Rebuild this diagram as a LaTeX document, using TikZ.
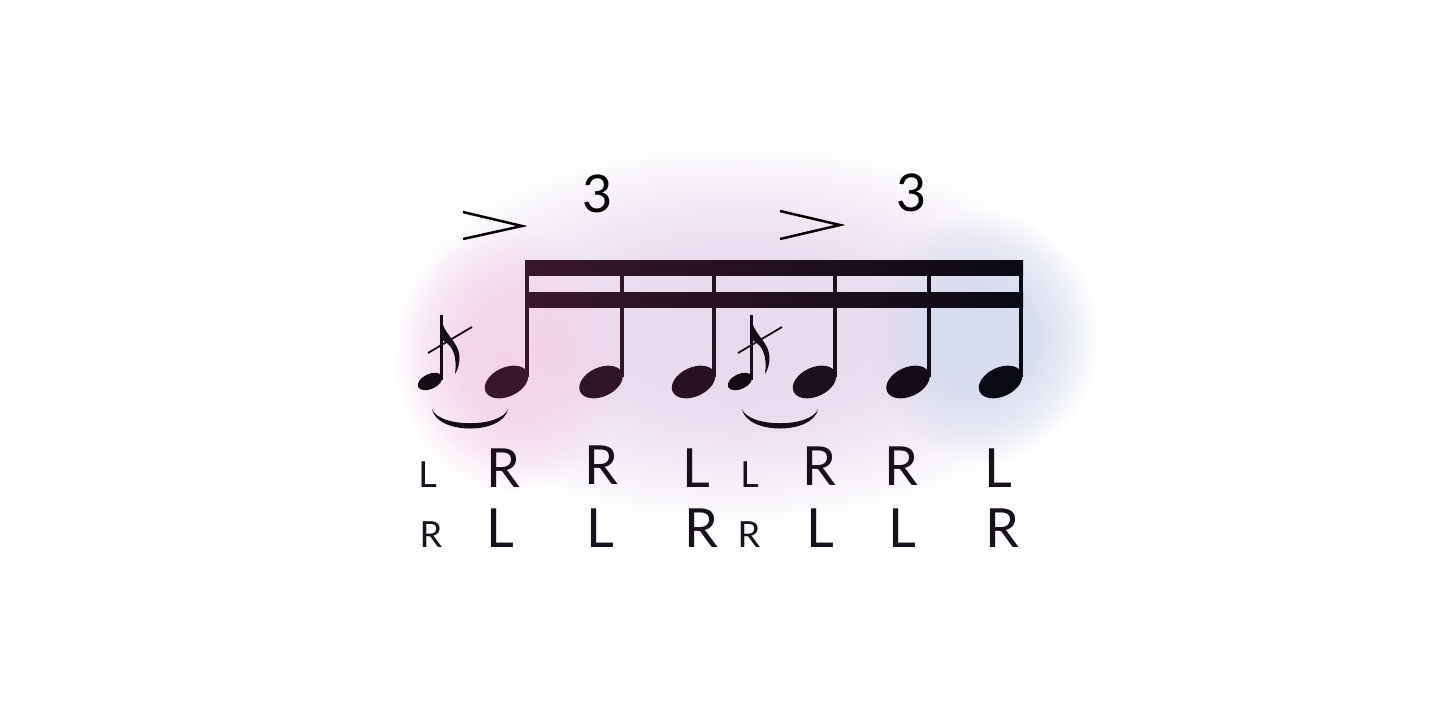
\documentclass[tikz,border=0pt]{standalone}
\usepackage{fontspec}
\setmainfont{Lato}
\usetikzlibrary{fadings}

\definecolor{glowpink}{RGB}{245,208,232}
\definecolor{glowmid}{RGB}{232,218,238}
\definecolor{glowblue}{RGB}{211,219,237}
\definecolor{inkleft}{RGB}{58,22,44}
\definecolor{inkright}{RGB}{10,10,20}
\definecolor{inkgrace}{RGB}{20,12,20}
\definecolor{letterink}{RGB}{24,16,28}

% soft elliptical glow behind the notes
\pgfdeclareradialshading{glowmask}{\pgfpointorigin}{color(0bp)=(white); color(11bp)=(white!92!black); color(19bp)=(white!45!black); color(25bp)=(black); color(50bp)=(black)}
\pgfdeclarefading{glow}{\pgfuseshading{glowmask}}

\begin{document}
\begin{tikzpicture}[x=1pt, y=-1pt,
  bigletter/.style={anchor=base, inner sep=0pt, text=letterink, font=\fontsize{54}{60}\selectfont},
  smallletter/.style={anchor=base, inner sep=0pt, text=letterink, font=\fontsize{36}{40}\selectfont},
  tuplet/.style={anchor=base, inner sep=0pt, text=black, font=\fontsize{52}{58}\selectfont},
  accent/.style={line width=2.5pt, black}]
\useasboundingbox (0,0) rectangle (1441,721);

% Background glow: lavender body, pink left, blue right
\fill[glowmid, path fading=glow] (385,140) rectangle (1095,525);
\fill[glowpink, fill opacity=0.85, path fading=glow] (395,225) rectangle (625,495);
\fill[glowblue, fill opacity=0.9, path fading=glow] (865,210) rectangle (1100,465);

% Beams
\shade[left color=inkleft, right color=inkright] (525,260) rectangle (1023,275);
\shade[left color=inkleft, right color=inkright] (525,292) rectangle (1023,307);

% Main notes: head and stem
\foreach \x [count=\i] in {527,621.5,714,835,928.5,1021} {
    \pgfmathtruncatemacro\mix{100-(\i-1)*20}
    \colorlet{ink}{inkleft!\mix!inkright}
    \fill[ink, rotate around={25:(\x-20.5,382)}] (\x-20.5,382) ellipse (23 and 14.5);
    \draw[ink, line width=4pt] (\x,377) -- (\x,260);
}

% Grace notes with slash and slur
\foreach \gx in {0,310} {
\begin{scope}[xshift=\gx pt]
\fill[inkgrace, rotate around={25:(430,381.5)}] (430,381.5) ellipse (13 and 7.5);
\draw[inkgrace, line width=2.5pt] (441.5,380) -- (441.5,315);
\fill[inkgrace] (440.3,315) .. controls (443,336) and (459,340) .. (459.5,358)
    .. controls (459.5,365) and (457.5,370) .. (455,374)
    .. controls (456,366) and (456,358) .. (453,351)
    .. controls (450,344) and (444,341) .. (442,340) -- cycle;
\draw[inkgrace, line width=1.8pt] (428,353) -- (472,327);
\fill[inkgrace] (432,409) .. controls (437,435) and (503,435) .. (508,409)
    .. controls (501,428) and (439,428) .. cycle;
\end{scope}
}

% Accents
\draw[accent] (463,212) -- (522,226) -- (463,239);
\draw[accent] (780,211) -- (840,225) -- (780,239);

% Triplet numbers
\node[tuplet] (three1) at (598,212) {3};
\node[tuplet] (three2) at (912,211) {3};

% Sticking, first line
\node[smallletter] (gtop1) at (427.5,487) {L};
\node[smallletter] (gtop2) at (749.5,487) {L};
\foreach \lx/\ly/\lt [count=\i] in {503/487/R, 601/484/R, 696/487/L, 819/485/R, 901/485/R, 998/487/L}
    \node[bigletter] (top\i) at (\lx,\ly) {\lt};

% Sticking, second line
\node[smallletter] (gbot1) at (431,547) {R};
\node[smallletter] (gbot2) at (749,547) {R};
\foreach \lx/\lt [count=\i] in {500/L, 600/L, 701/R, 820/L, 902/L, 1002/R}
    \node[bigletter] (bot\i) at (\lx,547) {\lt};
\end{tikzpicture}
\end{document}
